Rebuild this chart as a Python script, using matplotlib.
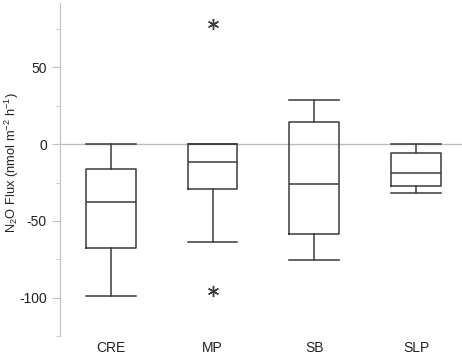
import matplotlib
matplotlib.use("Agg")
import matplotlib.pyplot as plt
from matplotlib.ticker import MultipleLocator

plt.rcParams['font.family'] = ['Liberation Sans', 'DejaVu Sans']
plt.rcParams['axes.unicode_minus'] = False
plt.rcParams['mathtext.fontset'] = 'custom'
plt.rcParams['mathtext.rm'] = 'Liberation Sans'
plt.rcParams['mathtext.it'] = 'Liberation Sans'

categories = ["CRE", "MP", "SB", "SLP"]
whisker_low = [-99, -63.5, -75.5, -31.5]
q1 = [-67.5, -29, -58.5, -27]
median = [-38, -11.5, -26, -18.5]
q3 = [-16, 0, 14.5, -5.5]
whisker_high = [0, 0, 28.5, 0]
outliers = [[], [78, -96], [], []]

stats = []
for i, c in enumerate(categories):
    stats.append(dict(label=c, whislo=whisker_low[i], q1=q1[i], med=median[i],
                      q3=q3[i], whishi=whisker_high[i], fliers=outliers[i]))

fig = plt.figure(figsize=(4.62, 3.56), dpi=100)
ax = fig.add_axes([60/462, 20/356, 1 - 60/462, 333/356])

dark = '#3a3a3a'
ax.axhline(0, color='#bdbdbd', lw=1.0, zorder=0)
ax.bxp(stats, positions=[1, 2, 3, 4], widths=0.49,
       boxprops=dict(color=dark, lw=1.1),
       whiskerprops=dict(color=dark, lw=1.1),
       capprops=dict(color=dark, lw=1.1),
       medianprops=dict(color=dark, lw=1.1),
       flierprops=dict(marker=(6, 2, 0), markersize=8, markerfacecolor=dark,
                       markeredgecolor=dark, markeredgewidth=1.0, linestyle='none'),
       capwidths=0.49)

ax.set_xlim(0.502, 4.45)
ax.set_ylim(-125, 92)
ax.yaxis.set_major_locator(MultipleLocator(50))
ax.yaxis.set_minor_locator(MultipleLocator(25))
for s in ['top', 'right', 'bottom']:
    ax.spines[s].set_visible(False)
ax.spines['left'].set_color('#c0c0c0')
ax.tick_params(axis='y', which='major', length=6, color='#c0c0c0', labelsize=10, labelcolor='#222222')
ax.tick_params(axis='y', which='minor', length=3, color='#c0c0c0')
ax.tick_params(axis='x', length=0, labelsize=10, labelcolor='#222222', pad=3.5)
fig.text(12/462, 1 - 163/356, "N$_2$O Flux (nmol m$^{-2}$ h$^{-1}$)", fontsize=9.3,
         color='#222222', rotation=90, ha='center', va='center')

fig.savefig("out.png", dpi=100)
